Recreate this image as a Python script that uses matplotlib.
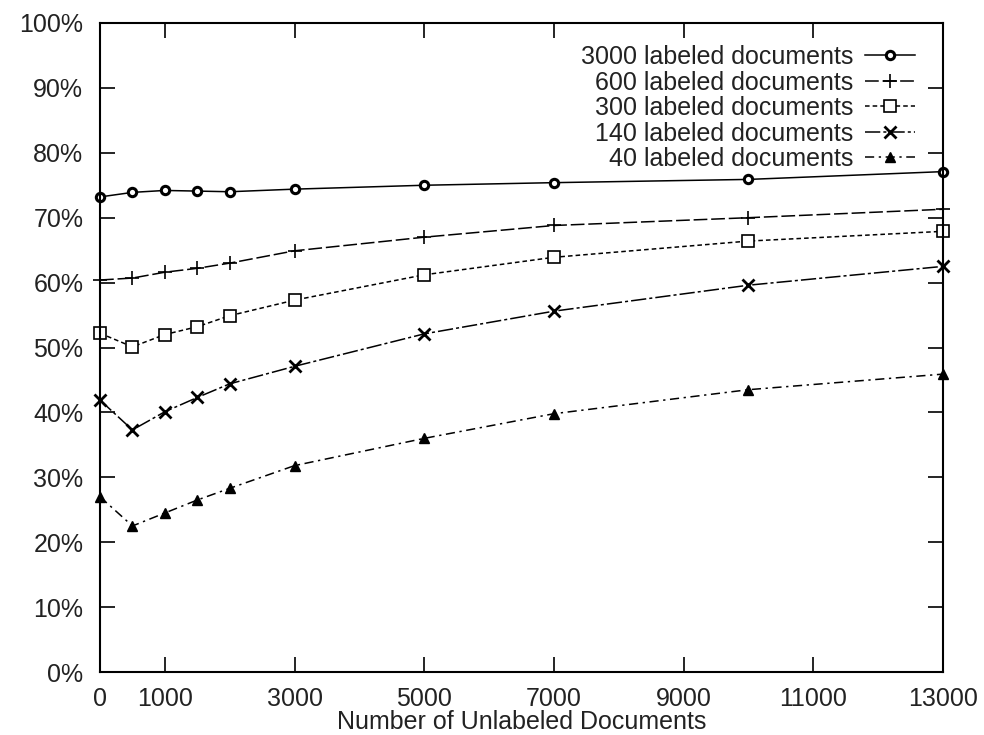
import matplotlib
matplotlib.use("Agg")
import matplotlib.pyplot as plt
from matplotlib.ticker import FuncFormatter

x_unlabeled = [0, 500, 1000, 1500, 2000, 3000, 5000, 7000, 10000, 13000]

acc_3000 = [73.2, 73.9, 74.2, 74.1, 74.0, 74.4, 75.0, 75.4, 75.9, 77.1]
acc_600 = [60.4, 60.7, 61.6, 62.2, 63.0, 64.9, 67.0, 68.8, 70.0, 71.3]
acc_300 = [52.2, 50.1, 52.0, 53.2, 54.9, 57.3, 61.2, 63.9, 66.4, 67.9]
acc_140 = [41.9, 37.3, 40.1, 42.3, 44.4, 47.1, 52.1, 55.6, 59.6, 62.5]
acc_40 = [27.0, 22.5, 24.5, 26.5, 28.3, 31.8, 36.0, 39.8, 43.5, 45.9]

series_labels = ["3000 labeled documents", "600 labeled documents",
                 "300 labeled documents", "140 labeled documents",
                 "40 labeled documents"]

x_ticks = [0, 1000, 3000, 5000, 7000, 9000, 11000, 13000]
y_ticks = [0, 10, 20, 30, 40, 50, 60, 70, 80, 90, 100]

plt.rcParams['font.family'] = ['Liberation Sans', 'DejaVu Sans']

fig = plt.figure(figsize=(9.84, 7.35), dpi=100)
ax = fig.add_axes([100/984, 1-672/735, (943-100)/984, (672-23)/735])

styles = [
    dict(ls='-', marker='o', ms=6, mfc='white', mew=2.2),
    dict(ls=(0, (9, 2.5)), marker='+', ms=10, mew=1.2),
    dict(ls=(0, (3, 2)), marker='s', ms=8, mfc='white', mew=1.2),
    dict(ls=(0, (10, 2, 2, 2)), marker='x', ms=8, mew=2.0),
    dict(ls=(0, (6, 3, 1.5, 3)), marker='^', ms=7, mew=1.0),
]
series = [acc_3000, acc_600, acc_300, acc_140, acc_40]
for vals, lab, st in zip(series, series_labels, styles):
    ax.plot(x_unlabeled, vals, color='black', lw=1.1, mec='black',
            label=lab, clip_on=False, **st)

ax.set_xlim(0, 13000)
ax.set_ylim(0, 100)
ax.set_xticks(x_ticks)
ax.set_yticks(y_ticks)
ax.yaxis.set_major_formatter(FuncFormatter(lambda v, p: f"{int(v)}%"))
ax.tick_params(direction='in', length=11, width=1.2, top=True, right=True,
               labelsize=18, colors='black', labelcolor='#222222')
ax.tick_params(axis='y', pad=12)
ax.tick_params(axis='x', pad=11)
for sp in ax.spines.values():
    sp.set_linewidth(1.5)
ax.set_xlabel("Number of Unlabeled Documents", fontsize=18, labelpad=-1,
              color='#222222')

leg = ax.legend(loc='upper right', frameon=False, markerfirst=False,
                fontsize=18, handlelength=2.0, labelspacing=0.06,
                handletextpad=0.5, borderaxespad=0.3,
                bbox_to_anchor=(0.988, 0.993))
for t in leg.get_texts():
    t.set_color('#222222')

fig.savefig("out.png", dpi=100)
